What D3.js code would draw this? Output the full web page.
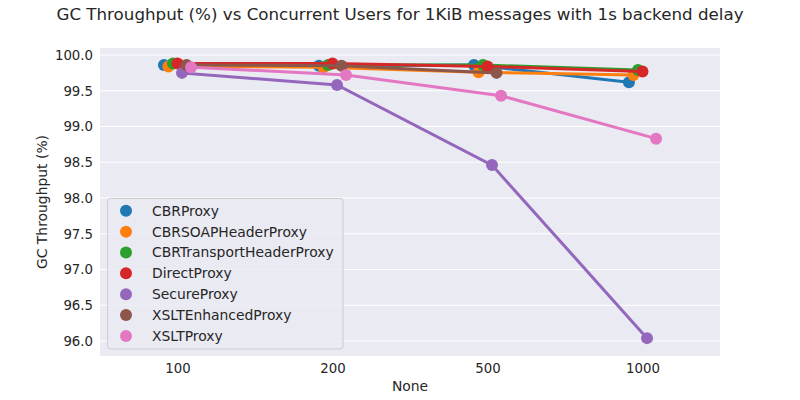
<!DOCTYPE html>
<html>
<head>
<meta charset="utf-8">
<script src="https://cdn.jsdelivr.net/npm/d3@7"></script>
<style>
  body { margin: 0; background: #fff; }
  text { font-family: "DejaVu Sans", sans-serif; fill: #262626; }
</style>
</head>
<body>
<div id="chart-area"></div>
<script>
// data (null = no point drawn)
var users = ["100", "200", "500", "1000"];
var seriesNames = ["CBRProxy", "CBRSOAPHeaderProxy", "CBRTransportHeaderProxy",
                   "DirectProxy", "SecureProxy", "XSLTEnhancedProxy", "XSLTProxy"];
var cbrProxy       = [99.86, 99.85, 99.86, 99.62];
var cbrSoap        = [99.84, 99.83, 99.76, 99.72];
var cbrTransport   = [99.88, 99.86, 99.86, 99.79];
var directProxy    = [99.88, 99.88, 99.84, 99.77];
var secureProxy    = [99.75, 99.58, 98.46, 96.04];
var xsltEnhanced   = [99.86, 99.85, 99.75, null];
var xsltProxy      = [99.83, 99.72, 99.43, 98.83];
var yTicks = [96.0, 96.5, 97.0, 97.5, 98.0, 98.5, 99.0, 99.5, 100.0];
var colors = ["#1f77b4", "#ff7f0e", "#2ca02c", "#d62728", "#9467bd", "#8c564b", "#e377c2"];

var allSeries = [cbrProxy, cbrSoap, cbrTransport, directProxy, secureProxy, xsltEnhanced, xsltProxy];

var width = 800, height = 400;
// plot area edges (named to avoid window.top)
var plotLeft = 100, plotRight = 720, plotTop = 48, plotBottom = 356;

var svg = d3.select("#chart-area")
            .append("svg")
              .attr("width", width)
              .attr("height", height);

var x = d3.scalePoint()
  .domain(users)
  .range([plotLeft, plotRight])
  .padding(0.5);

var y = d3.scaleLinear()
  .domain([95.79, 100.098])
  .range([plotBottom, plotTop]);

// seaborn style dodge: 0.025 * n hues, spread evenly
var step = x.step();
var dodge = 0.025 * seriesNames.length;
var offset = d3.scaleLinear()
  .domain([0, seriesNames.length - 1])
  .range([-dodge / 2 * step, dodge / 2 * step]);

// background
svg.append("rect")
  .attr("x", plotLeft).attr("y", plotTop)
  .attr("width", plotRight - plotLeft).attr("height", plotBottom - plotTop)
  .attr("fill", "#eaeaf2");

// grid
svg.append("g")
  .selectAll("line")
  .data(yTicks)
  .enter()
  .append("line")
    .attr("x1", plotLeft).attr("x2", plotRight)
    .attr("y1", function(d) { return y(d); })
    .attr("y2", function(d) { return y(d); })
    .attr("stroke", "#fff")
    .attr("stroke-width", 1);

// axes
var yAxis = svg.append("g")
  .attr("transform", "translate(" + plotLeft + ",0)")
  .call(d3.axisLeft(y).tickValues(yTicks).tickFormat(d3.format(".1f")).tickSize(0).tickPadding(7));
yAxis.select(".domain").remove();
yAxis.selectAll("text").style("font-size", "13.3px").style("font-family", "DejaVu Sans").attr("fill", "#262626");

var xAxis = svg.append("g")
  .attr("transform", "translate(0," + plotBottom + ")")
  .call(d3.axisBottom(x).tickSize(0).tickPadding(8));
xAxis.select(".domain").remove();
xAxis.selectAll("text").style("font-size", "13.3px").style("font-family", "DejaVu Sans").attr("fill", "#262626");

// series
var line = d3.line()
  .defined(function(d) { return d.v != null; })
  .x(function(d) { return d.x; })
  .y(function(d) { return y(d.v); });

allSeries.forEach(function(vals, si) {
  var pts = vals.map(function(v, i) {
    return { x: x(users[i]) + offset(si), v: v };
  });
  var g = svg.append("g");
  g.append("path")
    .datum(pts)
    .attr("d", line)
    .attr("fill", "none")
    .attr("stroke", colors[si])
    .attr("stroke-width", 3);
  g.selectAll("circle")
    .data(pts.filter(function(d) { return d.v != null; }))
    .enter()
    .append("circle")
      .attr("cx", function(d) { return d.x; })
      .attr("cy", function(d) { return y(d.v); })
      .attr("r", 6)
      .attr("fill", colors[si]);
});

// labels
svg.append("text")
  .attr("x", 400).attr("y", 20)
  .attr("text-anchor", "middle")
  .style("font-size", "16.7px")
  .text("GC Throughput (%) vs Concurrent Users for 1KiB messages with 1s backend delay");

svg.append("text")
  .attr("transform", "translate(47," + ((plotTop + plotBottom) / 2) + ") rotate(-90)")
  .attr("text-anchor", "middle")
  .style("font-size", "13.9px")
  .text("GC Throughput (%)");

svg.append("text")
  .attr("x", (plotLeft + plotRight) / 2).attr("y", 391)
  .attr("text-anchor", "middle")
  .style("font-size", "13.9px")
  .text("None");

// legend
var legend = svg.append("g").attr("transform", "translate(107.5,198.5)");
legend.append("rect")
  .attr("width", 235.5).attr("height", 150.5)
  .attr("rx", 3)
  .attr("fill", "#eaeaf2")
  .attr("fill-opacity", 0.8)
  .attr("stroke", "#cccccc");
var items = legend.selectAll("g.item")
  .data(seriesNames)
  .enter()
  .append("g")
    .attr("class", "item")
    .attr("transform", function(d, i) { return "translate(0," + (12.3 + i * 20.85) + ")"; });
items.append("circle")
  .attr("cx", 18.5).attr("cy", 0).attr("r", 6)
  .attr("fill", function(d, i) { return colors[i]; });
items.append("text")
  .attr("x", 44.5).attr("y", 0)
  .attr("dy", "0.35em")
  .style("font-size", "13.9px")
  .text(function(d) { return d; });
</script>
</body>
</html>
